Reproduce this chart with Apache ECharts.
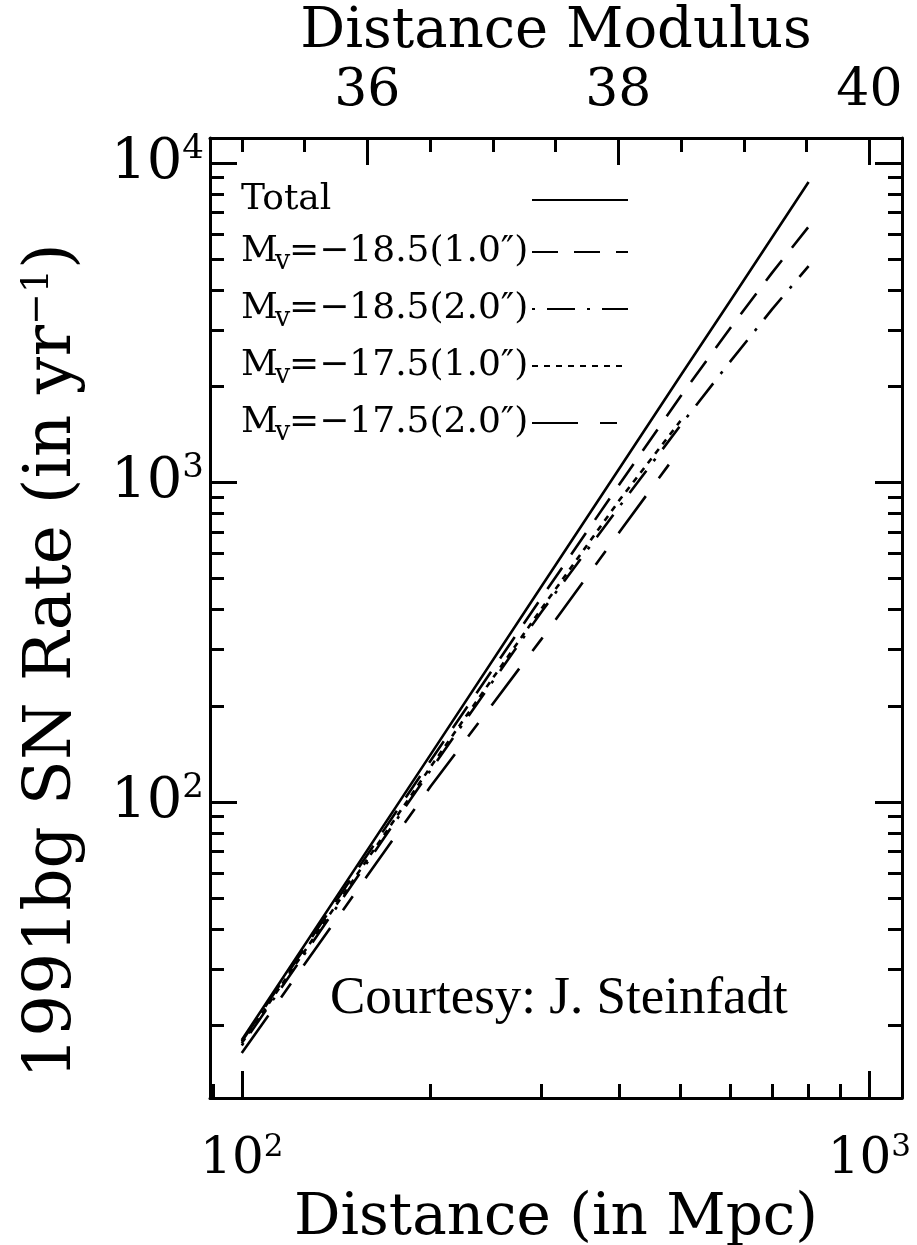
<!DOCTYPE html>
<html>
<head>
<meta charset="utf-8">
<script src="https://cdn.jsdelivr.net/npm/echarts@6/dist/echarts.min.js"></script>
<style>
  html, body { margin: 0; padding: 0; background: #fff; }
  #main { width: 917px; height: 1245px; }
</style>
</head>
<body>
<div id="main"></div>
<script>
// distance in Mpc, rate in SNe per year
var distance = [100, 200, 300, 400, 500, 600, 700, 800];
var distanceShort = [100, 200, 300, 400, 500];

var rateTotal   = [18.0, 141, 472, 1110, 2160, 3700, 5860, 8730];
var rate185_10  = [17.8, 135, 435, 990, 1860, 3040, 4540, 6320];
var rate185_20  = [17.3, 126, 393, 843, 1510, 2390, 3490, 4760];
var rate175_10  = [17.6, 129, 402, 883, 1560];
var rate175_20  = [16.4, 112, 323, 701, 1276];

var seriesNames = ['Total', 'M_v=−18.5(1.0″)', 'M_v=−18.5(2.0″)', 'M_v=−17.5(1.0″)', 'M_v=−17.5(2.0″)'];

// tick values
var xMajor = [100, 1000];
var xMinor = [90, 200, 300, 400, 500, 600, 700, 800, 900];
var yMajor = [100, 1000, 10000];
var yMinor = [20, 30, 40, 50, 60, 70, 80, 90,
              200, 300, 400, 500, 600, 700, 800, 900,
              2000, 3000, 4000, 5000, 6000, 7000, 8000, 9000];
var modulusMajor = [36, 38, 40];
var modulusMinor = [35, 35.5, 36.5, 37, 37.5, 38.5, 39, 39.5];

// line dash styles, same order as seriesNames
var dashes = ['solid', [26, 16], [3, 12, 28, 12], [6, 6], [46, 22, 17, 22]];

function modToMpc(m) { return Math.pow(10, (m - 25) / 5); }
function pairs(xs, ys) { return xs.map(function (x, i) { return [x, ys[i]]; }); }

var FONT = 'DejaVu Serif';
var xMin = 89, xMax = 1127;
var yMin = 11.85, yMax = 11980;

var frame = { show: true, onZero: false, lineStyle: { color: '#000', width: 3 } };
function ticks(vals, len) {
  return { show: true, inside: true, length: len, customValues: vals,
           lineStyle: { color: '#000', width: 3 } };
}
function powRich(big, small) {
  return {
    b: { fontFamily: FONT, fontSize: big, lineHeight: big + 6, color: '#000' },
    s: { fontFamily: FONT, fontSize: small, lineHeight: small, verticalAlign: 'top', color: '#000' }
  };
}
function powLabel(v) { return '{b|10}{s|' + Math.round(Math.log10(v)) + '}'; }

function xAx(grid, pos, extra) {
  return Object.assign({
    type: 'log', logBase: 10, gridIndex: grid, position: pos, min: xMin, max: xMax,
    splitLine: { show: false }, axisLine: { show: false }, axisLabel: { show: false }
  }, extra);
}
function yAx(grid, pos, extra) {
  return Object.assign({
    type: 'log', logBase: 10, gridIndex: grid, position: pos, min: yMin, max: yMax,
    splitLine: { show: false }, axisLine: { show: false }, axisLabel: { show: false }
  }, extra);
}

var gridBox = { left: 210, right: 15, top: 138, bottom: 147, outerBoundsMode: 'none' };

var series = [
  { data: pairs(distance, rateTotal) },
  { data: pairs(distance, rate185_10) },
  { data: pairs(distance, rate185_20) },
  { data: pairs(distanceShort, rate175_10) },
  { data: pairs(distanceShort, rate175_20) }
].map(function (s, i) {
  return {
    name: seriesNames[i], type: 'line', xAxisIndex: 0, yAxisIndex: 0,
    data: s.data, symbol: 'none', showSymbol: false, silent: true,
    lineStyle: { color: '#000', width: 2.6, type: dashes[i] },
    itemStyle: { color: '#000' }
  };
});

var chart = echarts.init(document.getElementById('main'));
chart.setOption({
  animation: false,
  backgroundColor: '#fff',
  grid: [gridBox, Object.assign({}, gridBox)],
  xAxis: [
    xAx(0, 'bottom', {
      axisLine: frame, axisTick: ticks(xMajor, 27),
      axisLabel: { show: true, customValues: xMajor, margin: 34, formatter: powLabel, rich: powRich(50, 31) },
      name: 'Distance (in Mpc)', nameLocation: 'middle', nameGap: 86,
      nameTextStyle: { fontFamily: FONT, fontSize: 58, color: '#000' }
    }),
    xAx(0, 'top', {
      axisLine: frame, axisTick: ticks(modulusMajor.map(modToMpc), 27),
      axisLabel: {
        show: true, customValues: modulusMajor.map(modToMpc), margin: 21,
        fontFamily: FONT, fontSize: 52, color: '#000',
        formatter: function (v) { return String(Math.round(5 * Math.log10(v) + 25)); }
      },
      name: 'Distance Modulus', nameLocation: 'middle', nameGap: 70,
      nameTextStyle: { fontFamily: FONT, fontSize: 56, color: '#000' }
    }),
    xAx(1, 'bottom', { axisTick: ticks(xMinor, 14) }),
    xAx(1, 'top', { axisTick: ticks(modulusMinor.map(modToMpc), 14) })
  ],
  yAxis: [
    yAx(0, 'left', {
      axisLine: frame, axisTick: ticks(yMajor, 27),
      axisLabel: { show: true, customValues: yMajor, margin: 6, formatter: powLabel, rich: powRich(56, 34) },
      name: '{a|1991bg SN Rate (in yr}{s|−1}{a|)}', nameLocation: 'middle', nameGap: 123,
      nameTextStyle: {
        fontFamily: FONT, fontSize: 66, color: '#000', padding: [0, 86, 0, 0],
        rich: {
          a: { fontFamily: FONT, fontSize: 66, lineHeight: 68, color: '#000' },
          s: { fontFamily: FONT, fontSize: 38, lineHeight: 38, verticalAlign: 'top', color: '#000' }
        }
      }
    }),
    yAx(0, 'right', { axisLine: frame, axisTick: ticks(yMajor, 27) }),
    yAx(1, 'left', { axisTick: ticks(yMinor, 14) }),
    yAx(1, 'right', { axisTick: ticks(yMinor, 14) })
  ],
  legend: {
    data: seriesNames, orient: 'vertical', left: 241, top: 182, padding: 0,
    align: 'right', itemWidth: 96, itemHeight: 20, itemGap: 16, selectedMode: false,
    itemStyle: { opacity: 0, borderWidth: 0 },
    formatter: function (name) {
      if (name.indexOf('M_v') === 0) return '{m|M}{v|v}{r|' + name.slice(3) + '}';
      return '{w|' + name + '}';
    },
    textStyle: {
      fontFamily: FONT, fontSize: 36, color: '#000',
      rich: {
        w: { fontFamily: FONT, fontSize: 36, lineHeight: 46, width: 286, align: 'left', color: '#000' },
        m: { fontFamily: FONT, fontSize: 36, lineHeight: 46, width: 34, align: 'left', color: '#000' },
        v: { fontFamily: FONT, fontSize: 27, lineHeight: 24, width: 14, align: 'left', verticalAlign: 'bottom', color: '#000' },
        r: { fontFamily: FONT, fontSize: 36, lineHeight: 46, width: 238, align: 'left', color: '#000' }
      }
    }
  },
  graphic: [{
    type: 'text', left: 330, top: 973,
    style: { text: 'Courtesy: J. Steinfadt', font: '53px "Liberation Serif"', fill: '#000' }
  }],
  series: series
});
</script>
</body>
</html>
